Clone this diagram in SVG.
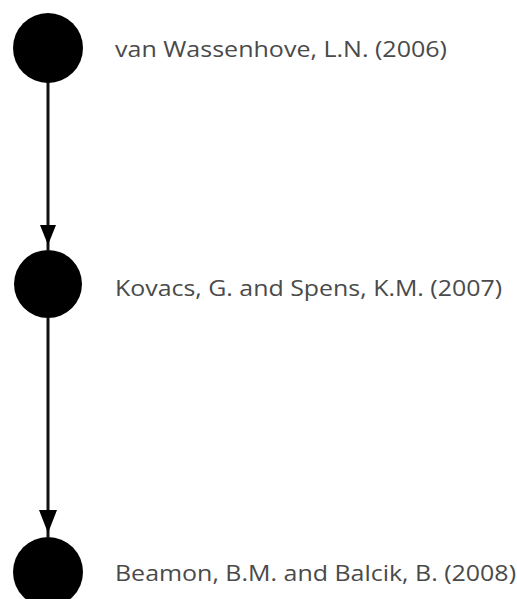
<svg xmlns="http://www.w3.org/2000/svg" width="517" height="599" viewBox="0 0 517 599">
<style>
.node{fill:#000}
.lbl{font-family:"Open Sans","Liberation Sans",sans-serif;font-size:21px;fill:#4a4a4a}
.edge{stroke:#111;stroke-width:3;fill:none}
.head{fill:#000}
</style>
<rect width="517" height="599" fill="#fff"/>
<g id="edges">
<line class="edge" x1="48" y1="82" x2="48" y2="250"/>
<path class="head" d="M40,225 L56,225 L48,245 Z"/>
<line class="edge" x1="48" y1="318" x2="48" y2="537" stroke="#333"/>
<path class="head" d="M39,510 L57,510 L48,533 Z"/>
</g>
<g id="n1"><circle class="node" cx="48" cy="48" r="35"/><text class="lbl" x="115" y="57" textLength="332" lengthAdjust="spacingAndGlyphs">van Wassenhove, L.N. (2006)</text></g>
<g id="n2"><circle class="node" cx="48" cy="284" r="34"/><text class="lbl" x="115" y="296" textLength="387" lengthAdjust="spacingAndGlyphs">Kovacs, G. and Spens, K.M. (2007)</text></g>
<g id="n3"><circle class="node" cx="48" cy="572" r="35"/><text class="lbl" x="115" y="581" textLength="401" lengthAdjust="spacingAndGlyphs">Beamon, B.M. and Balcik, B. (2008)</text></g>
</svg>
